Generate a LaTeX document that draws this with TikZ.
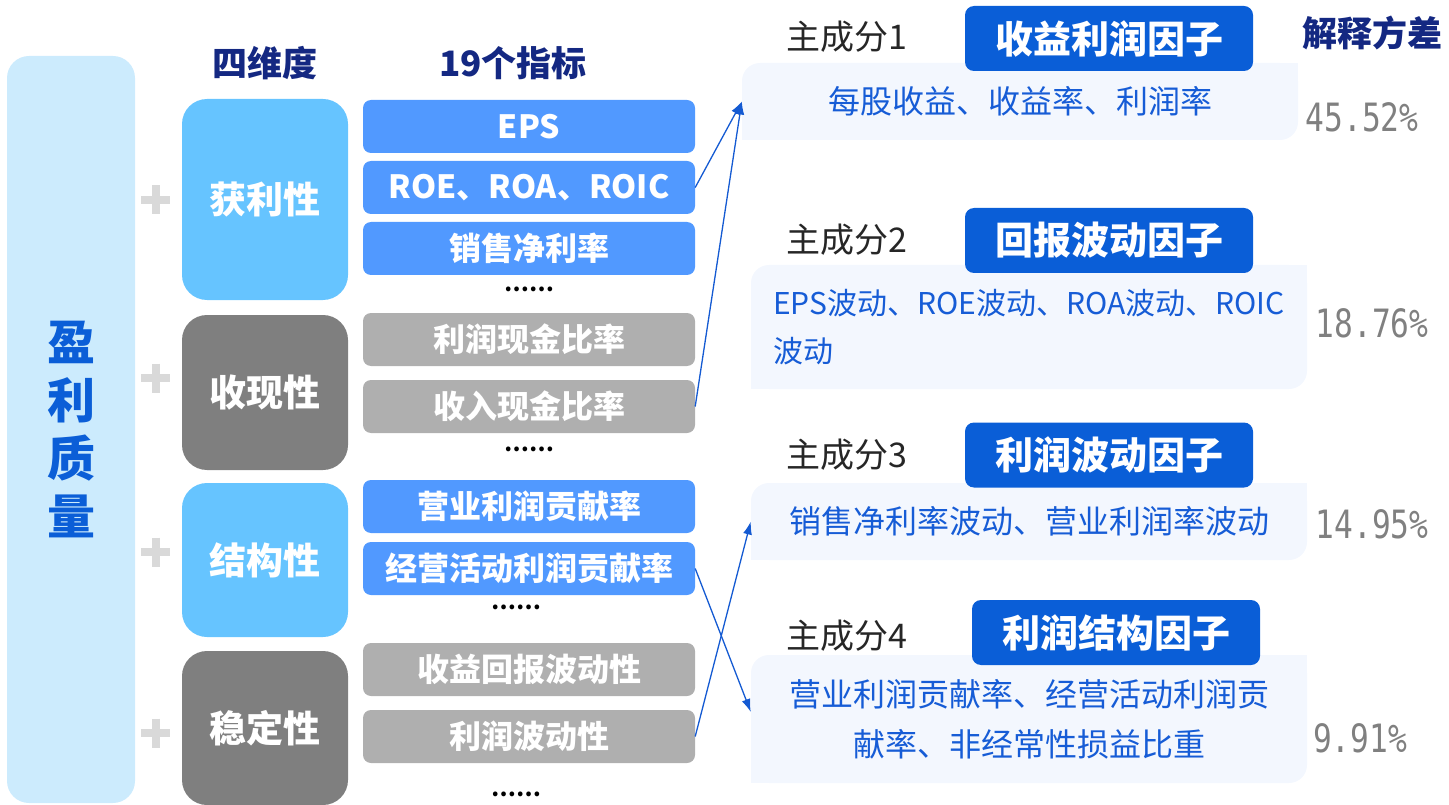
\documentclass[tikz,border=0pt]{standalone}
\usepackage{fontspec}
\setmainfont{Noto Sans CJK SC}
\newfontfamily\pctfont[FakeStretch=0.8]{DejaVu Sans Mono}
\usetikzlibrary{arrows.meta}
\definecolor{leftbg}{RGB}{204,235,253}
\definecolor{dimblue}{RGB}{102,196,255}
\definecolor{dimgray}{RGB}{127,127,127}
\definecolor{indblue}{RGB}{81,153,255}
\definecolor{indgray}{RGB}{175,175,175}
\definecolor{titleblue}{RGB}{10,94,215}
\definecolor{cbg}{RGB}{243,247,254}
\definecolor{ctblue}{RGB}{22,92,214}
\definecolor{navy}{RGB}{20,40,130}
\definecolor{rootblue}{RGB}{11,94,215}
\definecolor{pcgray}{RGB}{128,128,128}
\definecolor{plusgray}{RGB}{217,217,217}
\definecolor{arrowblue}{RGB}{20,90,210}
\begin{document}
\begin{tikzpicture}[x=1pt,y=-1pt,
  rootbox/.style={fill=leftbg, rounded corners=22pt, minimum width=128pt, minimum height=747pt, inner sep=0pt,
    text=rootblue, align=center, font=\bfseries\fontsize{48}{58}\selectfont},
  dimbox/.style={rounded corners=25pt, minimum width=166pt, inner sep=0pt, text=white,
    font=\bfseries\fontsize{37}{44}\selectfont},
  indbox/.style={rounded corners=8pt, minimum width=332pt, minimum height=53pt, inner sep=0pt, text=white,
    font=\bfseries\fontsize{32}{38}\selectfont},
  titlebox/.style={fill=titleblue, rounded corners=9pt, minimum width=288pt, minimum height=65pt, inner sep=0pt,
    text=white, font=\bfseries\fontsize{38}{44}\selectfont},
  contentbox/.style={fill=cbg, rounded corners=18pt, minimum width=556pt, inner sep=0pt,
    text=ctblue, font=\fontsize{32}{50}\selectfont},
  pclabel/.style={anchor=west, text=black!85, font=\fontsize{34}{40}\selectfont},
  pct/.style={text=pcgray, font=\pctfont\fontsize{39}{44}\selectfont},
  head/.style={text=navy, font=\bfseries\fontsize{35}{40}\selectfont},
  dotsnode/.style={font=\bfseries\fontsize{22}{24}\selectfont, text=black},
  plusline/.style={draw=plusgray, line width=8pt},
  conn/.style={draw=arrowblue, line width=1.3pt, -{Latex[length=13pt,width=9pt]}}
]
\useasboundingbox (0,0) rectangle (1449,805);

% root
\node[rootbox] (root) at (71,429.5) {盈\\利\\质\\量};

% headers
\node[head] (h1) at (265,63) {四维度};
\node[head] (h2) at (513,63) {19个指标};
\node[head] (h3) at (1372,33) {解释方差};

% plus signs
\foreach \py in {200,378,552,733}{
  \draw[plusline] (141,\py) -- (170,\py) (155.5,\py-14.5) -- (155.5,\py+14.5);
}

% dimensions
\node[dimbox, fill=dimblue, minimum height=201pt] (d1) at (265,199.5) {获利性};
\node[dimbox, fill=dimgray, minimum height=155pt] (d2) at (265,392.5) {收现性};
\node[dimbox, fill=dimblue, minimum height=154pt] (d3) at (265,560) {结构性};
\node[dimbox, fill=dimgray, minimum height=154pt] (d4) at (265,728) {稳定性};

% indicators
\node[indbox, fill=indblue] (i1) at (529,126.5) {EPS};
\node[indbox, fill=indblue] (i2) at (529,187.5) {ROE、ROA、ROIC};
\node[indbox, fill=indblue] (i3) at (529,248.5) {销售净利率};
\node[dotsnode] (e1) at (529,289) {……};
\node[indbox, fill=indgray] (i4) at (529,339.5) {利润现金比率};
\node[indbox, fill=indgray] (i5) at (529,406.5) {收入现金比率};
\node[dotsnode] (e2) at (529,449) {……};
\node[indbox, fill=indblue] (i6) at (529,506.5) {营业利润贡献率};
\node[indbox, fill=indblue] (i7) at (529,568.5) {经营活动利润贡献率};
\node[dotsnode] (e3) at (516,607) {……};
\node[indbox, fill=indgray] (i8) at (529,669.5) {收益回报波动性};
\node[indbox, fill=indgray] (i9) at (529,736.5) {利润波动性};
\node[dotsnode] (e4) at (516,794) {……};

% content boxes
\node[contentbox, minimum height=77pt] (c1) at (1020,101.5) {每股收益、收益率、利润率};
\node[contentbox, minimum height=124pt, align=left, font=\fontsize{30}{48}\selectfont] (c2) at (1029,327) {EPS波动、ROE波动、ROA波动、ROIC\\波动};
\node[contentbox, minimum height=77pt] (c3) at (1029,521.5) {销售净利率波动、营业利润率波动};
\node[contentbox, minimum height=128pt, align=center] (c4) at (1029,719) {营业利润贡献率、经营活动利润贡\\献率、非经常性损益比重};
\foreach \c in {c1,c2,c3,c4}{
  \fill[cbg] (\c.north east) rectangle ++(-20,20);
  \fill[cbg] (\c.south west) rectangle ++(20,-20);
}

% principal component labels
\node[pclabel] (p1) at (783,37) {主成分1};
\node[pclabel] (p2) at (783,240) {主成分2};
\node[pclabel] (p3) at (783,455) {主成分3};
\node[pclabel] (p4) at (783,636) {主成分4};

% titles
\node[titlebox] (t1) at (1109,38.5) {收益利润因子};
\node[titlebox] (t2) at (1109,240.5) {回报波动因子};
\node[titlebox] (t3) at (1109,455) {利润波动因子};
\node[titlebox] (t4) at (1116,632.5) {利润结构因子};

% percentages
\node[pct] (v1) at (1362,117) {45.52\%};
\node[pct] (v2) at (1372,323) {18.76\%};
\node[pct] (v3) at (1372,524) {14.95\%};
\node[pct] (v4) at (1360,738) {9.91\%};

% connectors
\draw[conn] (i2.east) -- (c1.west);
\draw[conn] (i5.east) -- (c1.west);
\draw[conn] (i7.east) -- ([yshift=7pt]c4.west);
\draw[conn] (i9.east) -- (c3.west);
\end{tikzpicture}
\end{document}
